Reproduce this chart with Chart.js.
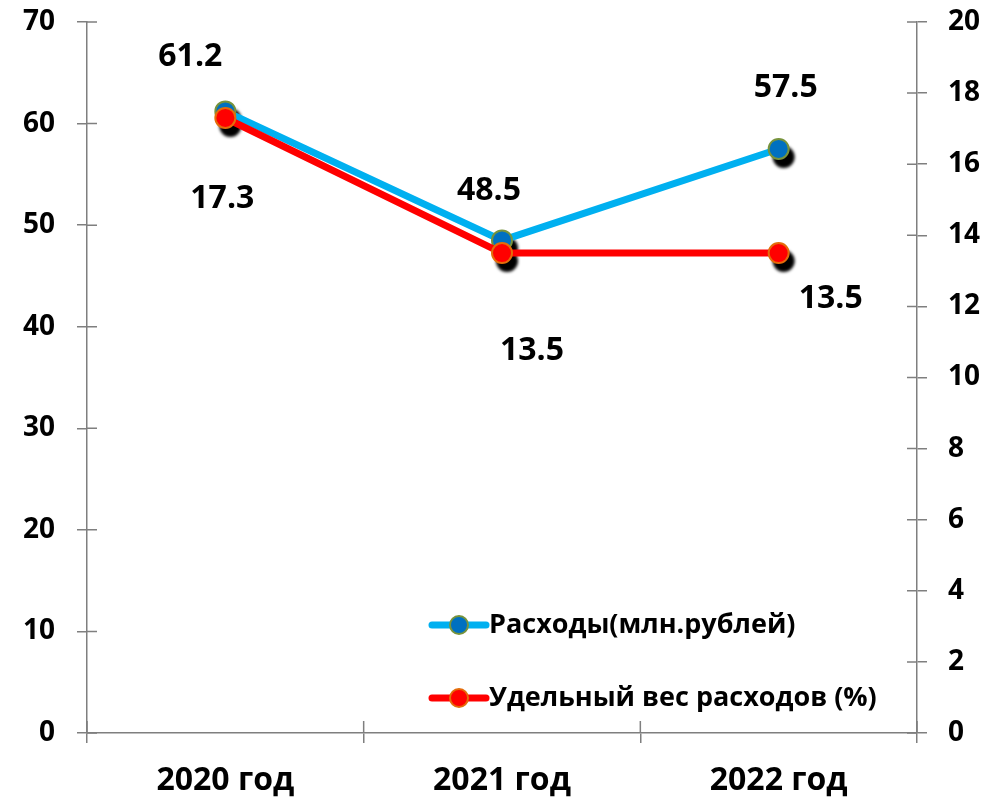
<!DOCTYPE html>
<html>
<head>
<meta charset="utf-8">
<script src="https://cdn.jsdelivr.net/npm/chart.js@4.4.0/dist/chart.umd.min.js"></script>
<style>
    body { margin: 0; background: #fff; }
    #wrap { width: 1000px; height: 800px; }
</style>
</head>
<body>
<div id="wrap"><canvas id="chart" width="1000" height="800"></canvas></div>
<script>
// --- data ---
const years = ["2020 год", "2021 год", "2022 год"];
const expenses = [61.2, 48.5, 57.5];      // млн. рублей, left axis
const expenseShare = [17.3, 13.5, 13.5];  // %, right axis
const seriesNames = ["Расходы(млн.рублей)", "Удельный вес расходов (%)"];
const leftAxis = { min: 0, max: 70, step: 10 };
const rightAxis = { min: 0, max: 20, step: 2 };

const FONT = "'Open Sans', 'DejaVu Sans', sans-serif";
const AXIS_COLOR = "#7f7f7f";

// where each value label sits relative to its point
const labelOffsets = [
    [[-35, -54], [-13, -49], [7, -61]],
    [[-3, 81], [30, 98], [52, 46]]
];

// blurred black shadow under every marker
const markerShadow = {
    id: "markerShadow",
    beforeDatasetsDraw(chart) {
        const ctx = chart.ctx;
        ctx.save();
        ctx.filter = "blur(1.5px)";
        ctx.fillStyle = "#000";
        chart.data.datasets.forEach((ds, i) => {
            chart.getDatasetMeta(i).data.forEach(pt => {
                ctx.beginPath();
                ctx.arc(pt.x + 5, pt.y + 8, 11, 0, Math.PI * 2);
                ctx.fill();
            });
        });
        ctx.restore();
    }
};

// value labels
const valueLabels = {
    id: "valueLabels",
    afterDatasetsDraw(chart) {
        const ctx = chart.ctx;
        ctx.save();
        ctx.font = "bold 32px " + FONT;
        ctx.fillStyle = "#000";
        ctx.textAlign = "center";
        ctx.textBaseline = "middle";
        chart.data.datasets.forEach((ds, i) => {
            chart.getDatasetMeta(i).data.forEach((pt, j) => {
                const off = labelOffsets[i][j];
                ctx.fillText(ds.data[j].toFixed(1), pt.x + off[0], pt.y + off[1]);
            });
        });
        ctx.restore();
    }
};

// tick marks that cross the axis lines
const crossTicks = {
    id: "crossTicks",
    afterDraw(chart) {
        const ctx = chart.ctx;
        const area = chart.chartArea;
        ctx.save();
        ctx.strokeStyle = AXIS_COLOR;
        ctx.lineWidth = 1.5;
        ctx.beginPath();
        chart.scales.y.ticks.forEach(t => {
            const y = chart.scales.y.getPixelForValue(t.value);
            ctx.moveTo(area.left, y); ctx.lineTo(area.left + 10, y);
        });
        chart.scales.y1.ticks.forEach(t => {
            const y = chart.scales.y1.getPixelForValue(t.value);
            ctx.moveTo(area.right - 10, y); ctx.lineTo(area.right, y);
        });
        for (let i = 0; i <= years.length; i++) {
            const x = chart.scales.x.getPixelForValue(i - 0.5);
            ctx.moveTo(x, area.bottom - 12); ctx.lineTo(x, area.bottom);
        }
        ctx.stroke();
        ctx.restore();
    }
};

// legend inside the plot, bottom right
const innerLegend = {
    id: "innerLegend",
    afterDraw(chart) {
        const ctx = chart.ctx;
        const rows = [625, 698];
        ctx.save();
        chart.data.datasets.forEach((ds, i) => {
            const y = rows[i];
            ctx.strokeStyle = ds.borderColor;
            ctx.lineWidth = 7;
            ctx.lineCap = "round";
            ctx.beginPath();
            ctx.moveTo(432, y); ctx.lineTo(486, y);
            ctx.stroke();
            ctx.beginPath();
            ctx.arc(459, y, 9, 0, Math.PI * 2);
            ctx.fillStyle = ds.pointBackgroundColor;
            ctx.fill();
            ctx.lineWidth = 2;
            ctx.strokeStyle = ds.pointBorderColor;
            ctx.stroke();
            ctx.font = "bold 27px " + FONT;
            ctx.fillStyle = "#000";
            ctx.textAlign = "left";
            ctx.textBaseline = "middle";
            ctx.fillText(ds.label, 489, y);
        });
        ctx.restore();
    }
};

const tickFont = { family: FONT, size: 28, weight: "bold" };

function fitVertical(width) {
    return scale => {
        scale.width = width;
        scale.paddingTop = 0;
        scale.paddingBottom = 0;
    };
}

new Chart(document.getElementById("chart"), {
    type: "line",
    data: {
        labels: years,
        datasets: [
            {
                label: seriesNames[0],
                data: expenses,
                yAxisID: "y",
                borderColor: "#00B0F0",
                borderWidth: 7,
                pointBackgroundColor: "#0070C0",
                pointBorderColor: "#77933C",
                pointBorderWidth: 2,
                pointRadius: 10,
                order: 2
            },
            {
                label: seriesNames[1],
                data: expenseShare,
                yAxisID: "y1",
                borderColor: "#FF0000",
                borderWidth: 7,
                pointBackgroundColor: "#FF0000",
                pointBorderColor: "#E46C0A",
                pointBorderWidth: 2,
                pointRadius: 10,
                order: 1
            }
        ]
    },
    options: {
        responsive: false,
        animation: false,
        layout: { padding: { top: 22 } },
        plugins: { legend: { display: false }, tooltip: { enabled: false } },
        scales: {
            x: {
                offset: true,
                grid: { offset: true, drawOnChartArea: false, tickLength: 10, color: AXIS_COLOR, lineWidth: 1.5 },
                border: { color: AXIS_COLOR, width: 1.5 },
                ticks: { color: "#000", font: { family: FONT, size: 32, weight: "bold" }, padding: 19 },
                afterFit(scale) { scale.height = 67; }
            },
            y: {
                position: "left",
                min: leftAxis.min,
                max: leftAxis.max,
                grid: { drawOnChartArea: false, tickLength: 10, color: AXIS_COLOR, lineWidth: 1.5 },
                border: { color: AXIS_COLOR, width: 1.5 },
                ticks: { stepSize: leftAxis.step, color: "#000", font: tickFont, padding: 22 },
                afterFit: fitVertical(87)
            },
            y1: {
                position: "right",
                min: rightAxis.min,
                max: rightAxis.max,
                grid: { drawOnChartArea: false, tickLength: 10, color: AXIS_COLOR, lineWidth: 1.5 },
                border: { color: AXIS_COLOR, width: 1.5 },
                ticks: { stepSize: rightAxis.step, color: "#000", font: tickFont, padding: 21 },
                afterFit: fitVertical(83)
            }
        }
    },
    plugins: [markerShadow, valueLabels, crossTicks, innerLegend]
});
</script>
</body>
</html>
